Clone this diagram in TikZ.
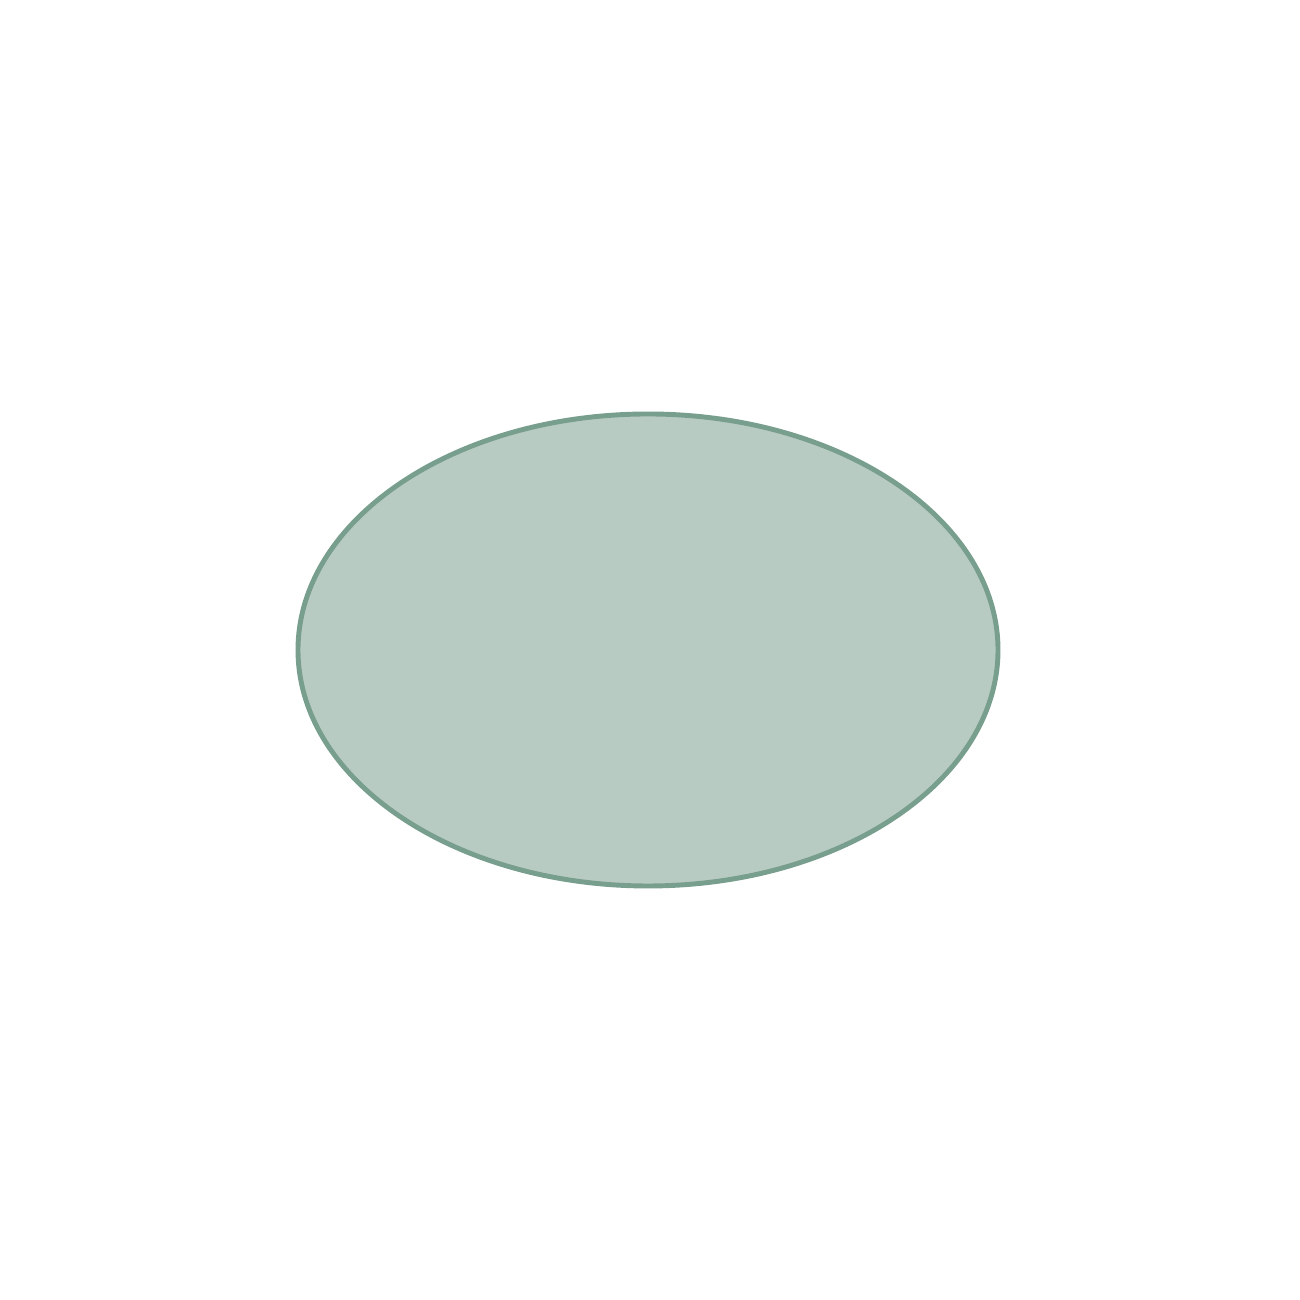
\documentclass[tikz,border=0pt]{standalone}
\usetikzlibrary{shapes.geometric}
\definecolor{sagefill}{HTML}{B8CBC2}
\definecolor{sageline}{HTML}{789E8E}

\begin{document}
\begin{tikzpicture}[every text node part/.style={align=center}]

\useasboundingbox (0,0) rectangle (13,13);

%%%%%%%%%%%%%%%%%%%%%%%%%%%%%%%%%%%%%%

\draw [sageline,line width=1.4pt,fill=sagefill] (6.48,6.50) ellipse [x radius=3.50,y radius=2.36];

\end{tikzpicture}
\end{document}
